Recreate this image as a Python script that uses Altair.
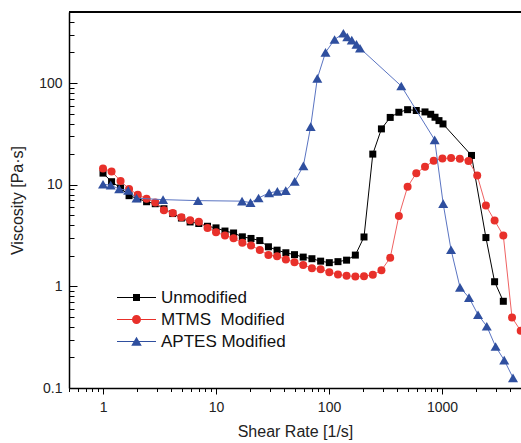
import altair as alt
import pandas as pd

# ---------------- data ----------------
series_names = ["Unmodified", "MTMS\u00a0 Modified", "APTES Modified"]

unmod_rate = [1.0, 1.19, 1.43, 1.70, 2.03, 2.43, 2.90, 3.46, 4.14, 4.94, 5.90, 7.04,
              8.41, 10.0, 12.0, 14.3, 17.1, 20.4, 24.4, 29.1, 34.7, 41.5, 49.5, 59.1,
              70.6, 84.3, 100.6, 120, 143, 171, 204, 244, 291, 348, 415, 496, 592, 707,
              794, 867, 940, 1020, 1824, 2446, 2920, 3487]
unmod_visc = [13.0, 10.7, 9.3, 7.8, 7.3, 6.8, 6.5, 5.8, 5.2, 4.7, 4.3, 4.15,
              3.9, 3.76, 3.5, 3.35, 3.07, 2.96, 2.82, 2.45, 2.27, 2.14, 2.05, 1.94,
              1.87, 1.77, 1.71, 1.75, 1.81, 2.03, 3.06, 20.0, 35.4, 45.9, 51.6, 54.7, 53.7, 52.0,
              49.3, 46.1, 42.7, 39.6, 19.4, 3.02, 1.11, 0.713]

mtms_rate = [1.0, 1.19, 1.43, 1.70, 2.03, 2.43, 2.90, 3.46, 4.14, 4.94, 5.90, 7.04,
             8.41, 10.0, 12.0, 14.3, 17.1, 20.4, 24.4, 29.1, 34.7, 41.5, 49.5, 59.1,
             70.6, 84.3, 100.6, 120, 143, 171, 204, 244, 291, 348, 415, 496, 592, 707,
             844, 1008, 1203, 1437, 1716, 2049, 2446, 2920, 3487, 4163, 4970]
mtms_visc = [14.4, 13.5, 10.9, 9.08, 7.98, 7.29, 6.70, 5.60, 5.28, 4.78, 4.47, 4.31,
             3.76, 3.41, 3.16, 2.98, 2.68, 2.52, 2.28, 2.03, 1.98, 1.84, 1.73, 1.62,
             1.51, 1.47, 1.38, 1.31, 1.27, 1.25, 1.26, 1.30, 1.44, 1.91, 4.93, 9.55, 12.97, 15.0,
             17.2, 18.1, 18.3, 18.0, 17.1, 12.3, 6.23, 4.44, 3.16, 0.493, 0.365]

aptes_rate = [1.0, 1.17, 1.39, 1.67, 1.98, 3.40, 6.93, 17.0, 20.2, 23.8, 29.5, 34.9,
              41.4, 49.7, 59.3, 68.8, 78.8, 93.1, 112, 134, 145, 159, 175, 188,
              436, 861, 1024, 1202, 1443, 1733, 2083, 2489, 2979, 3551, 4249]
aptes_visc = [10.1, 9.9, 9.08, 8.79, 7.37, 7.13, 6.97, 6.89, 6.66, 7.4, 8.3, 8.60,
              8.75, 10.8, 15.3, 37.3, 111, 200, 268, 309, 284, 264, 240, 220,
              93.5, 27.6, 6.51, 2.29, 0.977, 0.775, 0.526, 0.405, 0.256, 0.188, 0.126]

x_tick_values = [0.5, 0.6, 0.7, 0.8, 0.9, 1, 2, 3, 4, 5, 6, 7, 8, 9,
                 10, 20, 30, 40, 50, 60, 70, 80, 90,
                 100, 200, 300, 400, 500, 600, 700, 800, 900,
                 1000, 2000, 3000, 4000, 5000]
y_tick_values = [0.1, 0.2, 0.3, 0.4, 0.5, 0.6, 0.7, 0.8, 0.9, 1, 2, 3, 4, 5, 6, 7, 8, 9,
                 10, 20, 30, 40, 50, 60, 70, 80, 90, 100, 200, 300, 400, 500]
y_label_values = [0.1, 1, 10, 100]

# ---------------- styling ----------------
FONT = "Liberation Sans"
W, H = 452, 376
marker_colors = ["#000000", "#e8302a", "#2f4f9f"]
line_colors = ["#000000", "#ef6262", "#5a74c2"]

legend_paths = [
    "M-3.9,-0.1L3.9,-0.1L3.9,0.1L-3.9,0.1Z M-0.7,-0.7L0.7,-0.7L0.7,0.7L-0.7,0.7Z",
    "M-3.9,-0.1L3.9,-0.1L3.9,0.1L-3.9,0.1Z M-0.9,0A0.9,0.9,0,1,1,0.9,0A0.9,0.9,0,1,1,-0.9,0Z",
    "M-3.9,-0.1L3.9,-0.1L3.9,0.1L-3.9,0.1Z M0,-0.95L1.05,0.85L-1.05,0.85Z",
]

df_u = pd.DataFrame({"rate": unmod_rate, "visc": unmod_visc})
df_m = pd.DataFrame({"rate": mtms_rate, "visc": mtms_visc})
df_a = pd.DataFrame({"rate": aptes_rate, "visc": aptes_visc})
df_leg = pd.DataFrame({"series": series_names})

x_scale = alt.Scale(type="log", domain=[0.5, 5000], nice=False)
y_scale = alt.Scale(type="log", domain=[0.1, 500], nice=False)

x_major = "datum.value == 1 || datum.value == 10 || datum.value == 100 || datum.value == 1000"
y_major = "datum.value == 0.1 || datum.value == 1 || datum.value == 10 || datum.value == 100"

X = alt.X(
    "rate:Q", scale=x_scale,
    axis=alt.Axis(
        values=x_tick_values,
        labelExpr="(" + x_major + ") ? format(datum.value, '~g') : ''",
        tickSize={"condition": {"test": x_major, "value": 6}, "value": 3.5},
        tickColor="#000", tickWidth=1, domainColor="#000", domainWidth=1.5,
        labelFont=FONT, labelFontSize=14, labelColor="#222", labelPadding=6,
        labelFlush=False, labelOverlap=False, grid=False,
        title="Shear Rate [1/s]", titleFont=FONT, titleFontSize=16,
        titleFontWeight="normal", titleColor="#222", titlePadding=9,
    ),
)

y_left_axis = alt.Axis(
    orient="left", values=y_label_values, ticks=False,
    labelExpr="format(datum.value, '~g')",
    domainColor="#000", domainWidth=1.5,
    labelFont=FONT, labelFontSize=14, labelColor="#222", labelPadding=7,
    labelFlush=False, labelOverlap=False, grid=False,
    title="Viscosity [Pa\u00b7s]", titleFont=FONT, titleFontSize=16,
    titleFontWeight="normal", titleColor="#222", titlePadding=13,
)
y_tick_axis = alt.Axis(
    orient="right", offset=-W, values=y_tick_values, labels=False, domain=False,
    tickSize={"condition": {"test": y_major, "value": 8}, "value": 5},
    tickColor="#000", tickWidth=1, grid=False, title=None,
)


def Y(axis):
    return alt.Y("visc:Q", scale=y_scale, axis=axis)


def series_layers(df, i, shape, size, first=False, second=False):
    yax = y_left_axis if first else (y_tick_axis if second else None)
    line = alt.Chart(df).mark_line(color=line_colors[i], strokeWidth=1).encode(
        x=X, y=Y(yax)
    )
    pts = alt.Chart(df).mark_point(
        shape=shape, filled=True, size=size, color=marker_colors[i], opacity=1
    ).encode(x=X, y=Y(None))
    return [line, pts]


layers = []
layers += series_layers(df_u, 0, "square", 49, first=True)
layers += series_layers(df_m, 1, "circle", 64, second=True)
layers += series_layers(df_a, 2, "triangle-up", 100)

leg_common = dict(
    orient="none", legendX=59, legendY=277, title=None,
    labelFont=FONT, labelFontSize=17, labelColor="#111",
    symbolSize=100, symbolStrokeWidth=0, symbolOpacity=1,
    labelOffset=16, rowPadding=4, padding=0,
)
legend_layer = alt.Chart(df_leg).mark_point(filled=True, opacity=1, size=100).encode(
    shape=alt.Shape("series:N", scale=alt.Scale(domain=series_names, range=legend_paths),
                    legend=alt.Legend(**leg_common)),
    color=alt.Color("series:N", scale=alt.Scale(domain=series_names, range=marker_colors),
                    legend=alt.Legend(**leg_common)),
).transform_filter("false")

top_rule = alt.Chart(df_leg).mark_rule(color="#000", strokeWidth=1.5).encode(
    x=alt.value(0), x2=alt.value(W), y=alt.value(0)
)

chart = alt.layer(*layers, legend_layer, top_rule).resolve_axis(y="independent").properties(
    width=W, height=H,
    autosize=alt.AutoSizeParams(type="none"),
    padding={"left": 69, "top": 12, "right": 0, "bottom": 55},
    background="white",
).configure_view(stroke=None)

chart.save("out.html", embed_options={"renderer": "svg", "actions": False})
